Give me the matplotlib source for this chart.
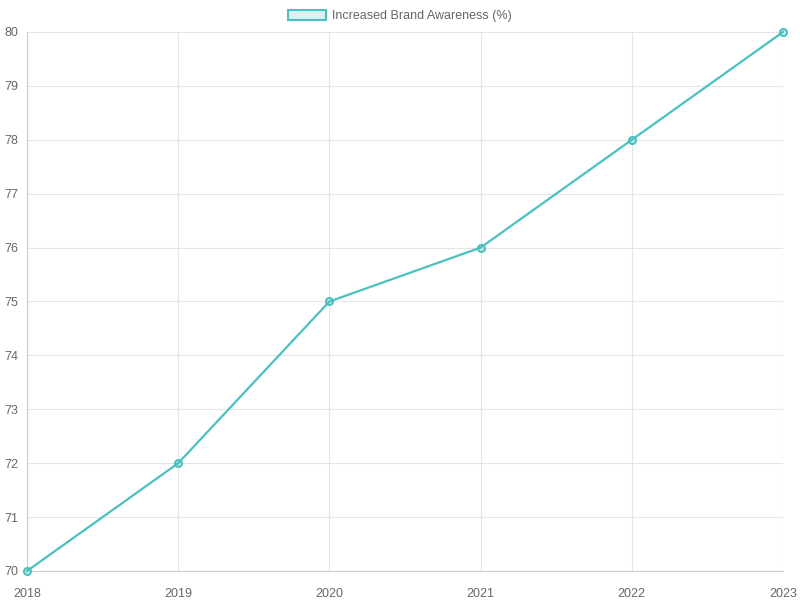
import matplotlib.pyplot as plt
from matplotlib.patches import Patch

years = ['2018', '2019', '2020', '2021', '2022', '2023']
awareness = [70, 72, 75, 76, 78, 80]
label = 'Increased Brand Awareness (%)'

line_color = '#4BC0C0'
fill_color = (75 / 255, 192 / 255, 192 / 255, 0.2)

plt.rcParams['font.family'] = ['Liberation Sans', 'DejaVu Sans']

fig = plt.figure(figsize=(8, 6), dpi=100)
ax = fig.add_axes([27 / 800, 1 - 571 / 600, 756 / 800, 539 / 600])

x = range(len(years))
ax.plot(x, awareness, color=line_color, linewidth=1.6, marker='o', markersize=5,
        markerfacecolor=fill_color, markeredgecolor=line_color, markeredgewidth=1.5,
        clip_on=False, zorder=3)

ax.set_xlim(0, len(years) - 1)
ax.set_ylim(70, 80)
ax.set_xticks(list(x))
ax.set_xticklabels(years)
ax.set_yticks(range(70, 81))

ax.grid(True, color='#e5e5e5', linewidth=0.8)
ax.set_axisbelow(True)
for side in ['top', 'right']:
    ax.spines[side].set_visible(False)
for side in ['left', 'bottom']:
    ax.spines[side].set_color('#cccccc')
ax.tick_params(colors='#666666', labelsize=9, length=0)
ax.tick_params(axis='x', pad=12)
ax.tick_params(axis='y', pad=6)

handle = Patch(facecolor=fill_color, edgecolor=line_color, linewidth=1.5)
fig.legend([handle], [label], loc='center', bbox_to_anchor=(0.5, 1 - 16 / 600),
           frameon=False, fontsize=9, labelcolor='#666666',
           handlelength=3, handleheight=0.9, handletextpad=0.5)

fig.savefig('out.png', dpi=100)
